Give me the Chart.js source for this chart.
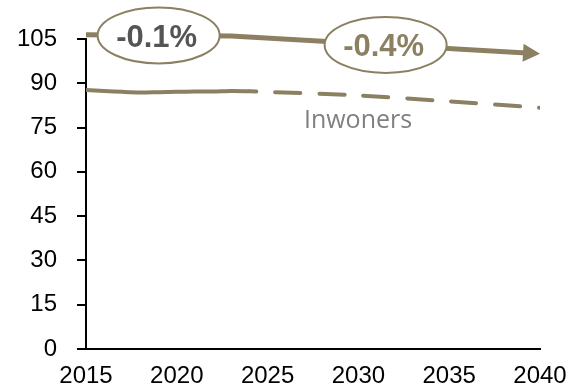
<!DOCTYPE html>
<html>
<head>
<meta charset="utf-8">
<script src="https://cdn.jsdelivr.net/npm/chart.js@4.4.0/dist/chart.umd.min.js"></script>
<style>
  html, body { margin: 0; padding: 0; background: #fff; }
</style>
</head>
<body>
<canvas id="chart" width="572" height="387"></canvas>
<script>
// Inwoners (x 1000): recorded years and projection
const histYears = [2015, 2016, 2017, 2018, 2019, 2020, 2021, 2022, 2023, 2024];
const histValues = [87.7, 87.4, 87.1, 86.9, 87.0, 87.1, 87.2, 87.2, 87.4, 87.3];
const projYears = [2024, 2025, 2030, 2035, 2040];
const projValues = [87.3, 87.1, 85.9, 83.9, 81.7];

// trend arrow and the yearly growth shown on each part
const trendYears = [2015, 2023, 2040];
const trendValues = [106.4, 106.0, 100.0];
const trendLabels = ['-0.1%', '-0.4%'];

const xTicks = [2015, 2020, 2025, 2030, 2035, 2040];
const yTicks = [0, 15, 30, 45, 60, 75, 90, 105];

const olive = '#8b8062';
const fontFamily = '"Liberation Sans", Arial, sans-serif';

function toPoints(xs, ys) {
    return xs.map((x, i) => ({ x: x, y: ys[i] }));
}

// arrow head, ellipse labels and series name
const trendPlugin = {
    id: 'trend',
    afterDatasetsDraw(chart) {
        const ctx = chart.ctx;
        const xs = chart.scales.x;
        const ys = chart.scales.y;
        const pts = trendYears.map((yr, i) => ({
            px: xs.getPixelForValue(yr),
            py: ys.getPixelForValue(trendValues[i])
        }));

        // arrow head on the last point
        const a = pts[pts.length - 2];
        const b = pts[pts.length - 1];
        const ang = Math.atan2(b.py - a.py, b.px - a.px);
        ctx.save();
        ctx.translate(b.px, b.py);
        ctx.rotate(ang);
        ctx.fillStyle = olive;
        ctx.beginPath();
        ctx.moveTo(0, 0);
        ctx.lineTo(-17, -9);
        ctx.lineTo(-17, 9);
        ctx.closePath();
        ctx.fill();
        ctx.restore();

        // growth labels in the middle of each part
        const textColors = ['#555555', olive];
        trendLabels.forEach((txt, i) => {
            const cx = (pts[i].px + pts[i + 1].px) / 2;
            const cy = (pts[i].py + pts[i + 1].py) / 2;
            ctx.save();
            ctx.beginPath();
            ctx.ellipse(cx, cy, 61, 28, 0, 0, Math.PI * 2);
            ctx.fillStyle = '#fff';
            ctx.fill();
            ctx.lineWidth = 2;
            ctx.strokeStyle = olive;
            ctx.stroke();
            ctx.font = 'bold 31px ' + fontFamily;
            ctx.textAlign = 'center';
            ctx.textBaseline = 'middle';
            ctx.fillStyle = textColors[i];
            ctx.fillText(txt, cx - 2, cy + 3);
            ctx.restore();
        });

        // series name under the line
        ctx.save();
        ctx.font = '25px "Open Sans", sans-serif';
        ctx.fillStyle = '#808080';
        ctx.textAlign = 'left';
        ctx.textBaseline = 'alphabetic';
        ctx.fillText('Inwoners', xs.getPixelForValue(2027), ys.getPixelForValue(75));
        ctx.restore();
    }
};

new Chart(document.getElementById('chart'), {
    type: 'line',
    data: {
        datasets: [
            {
                label: 'Inwoners',
                data: toPoints(histYears, histValues),
                borderColor: olive,
                borderWidth: 4,
                pointRadius: 0,
                tension: 0.3
            },
            {
                label: 'Prognose',
                data: toPoints(projYears, projValues),
                borderColor: olive,
                borderWidth: 4,
                borderDash: [25, 19],
                borderDashOffset: 18,
                borderCapStyle: 'round',
                pointRadius: 0,
                tension: 0.3
            },
            {
                label: 'Trend',
                data: toPoints(trendYears, trendValues),
                borderColor: olive,
                borderWidth: 5,
                pointRadius: 0,
                clip: { left: false, top: false, right: -5, bottom: false }
            }
        ]
    },
    options: {
        responsive: false,
        animation: false,
        devicePixelRatio: 1,
        layout: { padding: { top: 39, right: 32, bottom: 0, left: 0 } },
        plugins: {
            legend: { display: false },
            tooltip: { enabled: false }
        },
        scales: {
            x: {
                type: 'linear',
                min: 2015,
                max: 2040,
                afterBuildTicks: s => { s.ticks = xTicks.map(v => ({ value: v })); },
                afterFit: s => {
                    s.height = 38;
                    s.paddingLeft = 0;
                    s.paddingRight = 0;
                },
                ticks: {
                    color: '#000',
                    font: { family: fontFamily, size: 24 },
                    padding: 13,
                    maxRotation: 0,
                    callback: v => String(v)
                },
                grid: { display: false, drawTicks: false },
                border: { display: true, color: '#000', width: 2 }
            },
            y: {
                min: 0,
                max: 105,
                afterBuildTicks: s => { s.ticks = yTicks.map(v => ({ value: v })); },
                afterFit: s => { s.width = 86; },
                ticks: {
                    color: '#000',
                    font: { family: fontFamily, size: 24 },
                    padding: 20
                },
                grid: { drawOnChartArea: false, tickLength: 9, color: '#000', lineWidth: 2 },
                border: { color: '#000', width: 2 }
            }
        }
    },
    plugins: [trendPlugin]
});
</script>
</body>
</html>
